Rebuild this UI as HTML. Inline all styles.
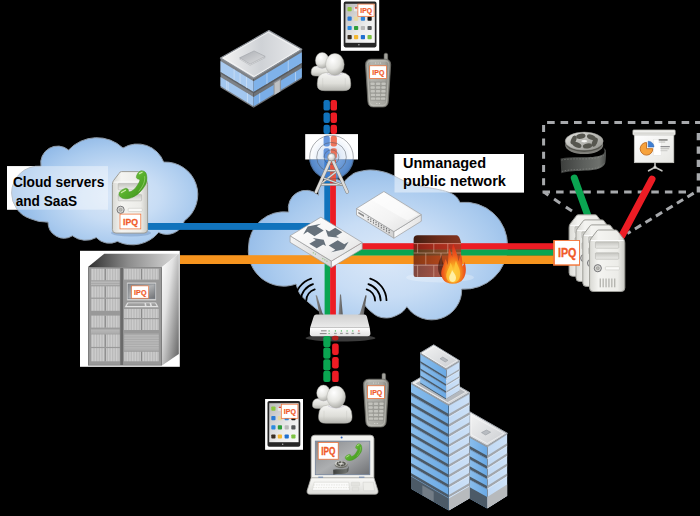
<!DOCTYPE html>
<html><head><meta charset="utf-8"><title>Network diagram</title>
<style>
html,body{margin:0;padding:0;background:#000;}
body{width:700px;height:516px;overflow:hidden;font-family:"Liberation Sans",sans-serif;}
svg{display:block;}
text{font-family:"Liberation Sans",sans-serif;}
</style></head><body>
<svg width="700" height="516" viewBox="0 0 700 516">
<rect width="700" height="516" fill="#000"/>
<defs>
<radialGradient id="cl1" gradientUnits="userSpaceOnUse" cx="118" cy="196" r="104" gradientTransform="translate(118 196) scale(1 0.62) translate(-118 -196)">
<stop offset="0" stop-color="#dbe8f8"/><stop offset="0.4" stop-color="#c8ddf5"/><stop offset="0.75" stop-color="#a9caee"/><stop offset="1" stop-color="#90b9e7"/>
</radialGradient>
<radialGradient id="cl2" gradientUnits="userSpaceOnUse" cx="385" cy="258" r="150" gradientTransform="translate(385 258) scale(1 0.65) translate(-385 -258)">
<stop offset="0" stop-color="#dbe8f8"/><stop offset="0.4" stop-color="#c8ddf5"/><stop offset="0.75" stop-color="#a9caee"/><stop offset="1" stop-color="#90b9e7"/>
</radialGradient>
</defs>
<defs>
<linearGradient id="rkTop" x1="0" y1="0" x2="1" y2="0"><stop offset="0" stop-color="#2e2e2e"/><stop offset="0.45" stop-color="#8d8d8d"/><stop offset="1" stop-color="#dcdcdc"/></linearGradient>
<linearGradient id="rkSide" x1="0" y1="0" x2="1" y2="1"><stop offset="0" stop-color="#ffffff"/><stop offset="0.35" stop-color="#e2e2e2"/><stop offset="1" stop-color="#5e5e5e"/></linearGradient>
<pattern id="rkStripe" width="1.6" height="4" patternUnits="userSpaceOnUse"><rect width="1.6" height="4" fill="#cfcfcf"/><rect width="0.5" height="4" fill="#a9a9a9"/></pattern>
<pattern id="rkSlot" width="4" height="1.7" patternUnits="userSpaceOnUse"><rect width="4" height="1.7" fill="#8a8a8a"/><rect y="0.3" width="4" height="0.9" fill="#d6d6d6"/></pattern>
</defs>
<defs>
<linearGradient id="obRoof" x1="0" y1="0.5" x2="1" y2="0.5"><stop offset="0" stop-color="#f4f4f4"/><stop offset="0.5" stop-color="#cfd2d6"/><stop offset="1" stop-color="#e9eaec"/></linearGradient>
<linearGradient id="obBox" x1="0" y1="0" x2="1" y2="1"><stop offset="0" stop-color="#a9acb1"/><stop offset="1" stop-color="#dfe0e2"/></linearGradient>
</defs>
<defs>
<linearGradient id="skL" x1="0" y1="0" x2="1" y2="0"><stop offset="0" stop-color="#8abdeb"/><stop offset="1" stop-color="#6aa9e5"/></linearGradient>
<linearGradient id="skR" x1="0" y1="0" x2="1" y2="0"><stop offset="0" stop-color="#c0d9f5"/><stop offset="1" stop-color="#cde1f7"/></linearGradient>
<linearGradient id="skRoof" x1="0" y1="0" x2="1" y2="1"><stop offset="0" stop-color="#f5f5f5"/><stop offset="1" stop-color="#c9ccd0"/></linearGradient>
</defs>
<defs>
<linearGradient id="svBody" x1="0" y1="0" x2="1" y2="0"><stop offset="0" stop-color="#d9d9d4"/><stop offset="0.25" stop-color="#f4f4f1"/><stop offset="0.8" stop-color="#ecece8"/><stop offset="1" stop-color="#c9c9c4"/></linearGradient>
<linearGradient id="svBay" x1="0" y1="0" x2="0" y2="1"><stop offset="0" stop-color="#c4c4bf"/><stop offset="1" stop-color="#ededea"/></linearGradient>
</defs>
<defs>
<linearGradient id="tbScr" x1="0" y1="0" x2="1" y2="1"><stop offset="0" stop-color="#b9b9b9"/><stop offset="0.6" stop-color="#ececec"/><stop offset="1" stop-color="#fafafa"/></linearGradient>
<radialGradient id="usHead" cx="0.38" cy="0.3" r="0.75"><stop offset="0" stop-color="#ffffff"/><stop offset="0.55" stop-color="#e6e6e2"/><stop offset="1" stop-color="#a9a9a4"/></radialGradient>
<linearGradient id="usBody" x1="0" y1="0" x2="0" y2="1"><stop offset="0" stop-color="#f6f6f4"/><stop offset="0.6" stop-color="#deded9"/><stop offset="1" stop-color="#b4b4af"/></linearGradient>
<linearGradient id="phBody" x1="0" y1="0" x2="1" y2="0"><stop offset="0" stop-color="#85857e"/><stop offset="0.22" stop-color="#b4b4ae"/><stop offset="0.75" stop-color="#a6a6a0"/><stop offset="1" stop-color="#7b7b74"/></linearGradient>
<linearGradient id="grPh" x1="0" y1="0" x2="1" y2="1"><stop offset="0" stop-color="#a5dd6a"/><stop offset="0.5" stop-color="#58b02c"/><stop offset="1" stop-color="#3c8e1c"/></linearGradient>
</defs>
<defs>
<radialGradient id="twC1" gradientUnits="userSpaceOnUse" cx="331.5" cy="157.2" r="22.4"><stop offset="0" stop-color="#8fb3e2"/><stop offset="0.5" stop-color="#6f9dd8"/><stop offset="1" stop-color="#4f83c6"/></radialGradient>
<radialGradient id="twC2" gradientUnits="userSpaceOnUse" cx="331.5" cy="157.2" r="22.4"><stop offset="0" stop-color="#a9c4ea"/><stop offset="0.45" stop-color="#e3ecf8"/><stop offset="1" stop-color="#ffffff"/></radialGradient>
<radialGradient id="twBall" cx="0.4" cy="0.35" r="0.7"><stop offset="0" stop-color="#ffffff"/><stop offset="0.6" stop-color="#dcdcdc"/><stop offset="1" stop-color="#9a9a9a"/></radialGradient>
<clipPath id="twLow"><rect x="300" y="159.5" width="70" height="40"/></clipPath>
<clipPath id="twUp"><rect x="305.2" y="134.1" width="52.8" height="25.4"/></clipPath>
</defs>
<defs>
<linearGradient id="swTop" x1="0" y1="0" x2="1" y2="1"><stop offset="0" stop-color="#ffffff"/><stop offset="0.6" stop-color="#f3f3f3"/><stop offset="1" stop-color="#dedede"/></linearGradient>
<linearGradient id="swL" x1="0" y1="0" x2="1" y2="0"><stop offset="0" stop-color="#f4f4f4"/><stop offset="1" stop-color="#d2d2d2"/></linearGradient>
<linearGradient id="swR" x1="0" y1="0" x2="1" y2="0"><stop offset="0" stop-color="#fbfbfb"/><stop offset="1" stop-color="#e4e4e4"/></linearGradient>
<linearGradient id="fwCap" x1="0" y1="0" x2="1" y2="0"><stop offset="0" stop-color="#3f1d12"/><stop offset="0.5" stop-color="#6b2a18"/><stop offset="1" stop-color="#84341f"/></linearGradient>
<linearGradient id="fwWall" x1="0" y1="0" x2="1" y2="0"><stop offset="0" stop-color="#6a2010"/><stop offset="0.5" stop-color="#96301a"/><stop offset="1" stop-color="#a83a20"/></linearGradient>
<radialGradient id="flame" cx="0.5" cy="0.72" r="0.7"><stop offset="0" stop-color="#ffd84a"/><stop offset="0.3" stop-color="#f9a11f"/><stop offset="0.62" stop-color="#ee5a1c"/><stop offset="1" stop-color="#d9281a"/></radialGradient>
</defs>
<defs>
<linearGradient id="rtTop" x1="0" y1="0" x2="0" y2="1"><stop offset="0" stop-color="#d0d0d0"/><stop offset="1" stop-color="#ebebeb"/></linearGradient>
<linearGradient id="rtFront" x1="0" y1="0" x2="0" y2="1"><stop offset="0" stop-color="#ffffff"/><stop offset="1" stop-color="#e2e2e2"/></linearGradient>
<linearGradient id="ant" x1="0" y1="0" x2="1" y2="0"><stop offset="0" stop-color="#8a8a8a"/><stop offset="1" stop-color="#555"/></linearGradient>
<linearGradient id="lpScr" x1="0" y1="0" x2="1" y2="1"><stop offset="0" stop-color="#86888b"/><stop offset="0.5" stop-color="#adafb1"/><stop offset="1" stop-color="#6f7174"/></linearGradient>
<linearGradient id="lpBody" x1="0" y1="0" x2="0" y2="1"><stop offset="0" stop-color="#fafaf8"/><stop offset="1" stop-color="#dcdcd8"/></linearGradient>
<linearGradient id="reel" x1="0" y1="0" x2="1" y2="1"><stop offset="0" stop-color="#e4e4e0"/><stop offset="1" stop-color="#8f8f8a"/></linearGradient>
<linearGradient id="film" x1="0" y1="0" x2="1" y2="0"><stop offset="0" stop-color="#3c3e3c"/><stop offset="0.5" stop-color="#5c5f5c"/><stop offset="0.85" stop-color="#6e716d"/><stop offset="1" stop-color="#4a4c4a"/></linearGradient>
<linearGradient id="prScr" x1="0" y1="0" x2="1" y2="1"><stop offset="0" stop-color="#ffffff"/><stop offset="1" stop-color="#e6e6e2"/></linearGradient>
</defs>
<rect x="7" y="166.1" width="101" height="43.6" fill="#fff"/>
<rect x="394.5" y="154" width="129.5" height="38.5" fill="#fff"/>
<path d="M41.0 166.2 A17.0 17.0 0 0 1 68.6 150.0 A38.4 38.4 0 0 1 123.0 148.0 A28.0 28.0 0 0 1 163.7 162.1 A32.5 32.5 0 0 1 184.3 220.9 A18.0 18.0 0 0 1 158.6 232.4 A34.0 34.0 0 0 1 117.4 241.4 A18.0 18.0 0 0 1 96.3 237.6 A22.0 22.0 0 0 1 72.4 235.8 A16.0 16.0 0 0 1 48.0 222.1 A40.0 40.0 0 0 1 30.0 218.6 A27.0 27.0 0 0 1 11.6 193.0 A27.0 27.0 0 0 1 41.0 166.2Z" fill="url(#cl1)" stroke="#8e9aa8" stroke-width="1"/>
<path d="M288.7 212.1 A17.9 17.9 0 0 1 318.5 195.2 A14.8 14.8 0 0 1 343.5 183.0 C344.1 182.3 345.6 180.0 346.8 178.8 C348.0 177.6 349.0 176.9 350.5 175.8 C352.0 174.8 352.8 173.5 356.0 172.5 C359.2 171.5 365.3 170.1 370.0 170.0 C374.7 169.9 379.9 171.0 384.0 172.0 C388.1 173.0 390.7 174.3 394.4 176.0 C398.1 177.7 401.7 180.3 406.0 182.0 C410.3 183.7 415.0 184.8 420.0 186.0 C425.0 187.2 431.3 188.0 436.0 189.0 C440.7 190.0 444.7 190.8 448.0 192.0 C451.3 193.2 454.0 194.8 456.0 196.5 C458.0 198.2 459.3 201.4 460.0 202.4 A43.0 43.0 0 0 1 507.5 246.0 A43.0 43.0 0 0 1 461.7 289.1 A30.0 30.0 0 0 1 406.9 306.7 C405.9 307.8 403.9 311.2 401.0 313.0 C398.1 314.8 393.5 317.1 389.7 317.7 C385.9 318.3 381.7 317.9 378.3 316.6 C374.9 315.3 371.4 311.9 369.1 310.0 C366.8 308.1 365.4 305.8 364.6 305.0 C363.8 306.5 363.3 311.5 360.0 314.0 C356.7 316.5 350.0 319.3 345.0 320.0 C340.0 320.7 334.4 319.5 330.0 318.0 C325.6 316.5 321.7 312.8 318.9 310.9 C316.1 308.9 316.2 309.0 313.1 306.3 C310.1 303.6 303.5 298.6 300.6 294.9 C297.8 291.2 296.8 285.8 296.0 284.0 A35.5 35.5 0 0 1 248.5 247.0 A35.5 35.5 0 0 1 288.7 212.1Z" fill="url(#cl2)" stroke="#8e9aa8" stroke-width="1"/>
<rect x="7" y="166.1" width="101" height="43.6" fill="#fff" fill-opacity="0.4"/>
<rect x="394.5" y="154" width="129.5" height="38.5" fill="#fff" fill-opacity="0.45"/>
<text x="12.9" y="187" font-size="14.5" font-weight="bold" fill="#000" textLength="91.4" lengthAdjust="spacingAndGlyphs">Cloud servers</text>
<text x="15.7" y="205.6" font-size="14.5" font-weight="bold" fill="#000" textLength="61.4" lengthAdjust="spacingAndGlyphs">and SaaS</text>
<text x="403" y="168.1" font-size="14.5" font-weight="bold" fill="#000" textLength="83" lengthAdjust="spacingAndGlyphs">Unmanaged</text>
<text x="403" y="186.4" font-size="14.5" font-weight="bold" fill="#000" textLength="103" lengthAdjust="spacingAndGlyphs">public network</text>
<rect x="148" y="223" width="162" height="6.9" fill="#1173bc"/>
<rect x="180" y="255.2" width="374" height="8.8" fill="#f7941e"/>
<rect x="345" y="249.3" width="209" height="6.2" fill="#0aa551"/>
<rect x="350" y="243.2" width="204" height="6.2" fill="#ec1c24"/>
<rect x="324.3" y="178" width="5.8" height="47" fill="#1173bc"/>
<rect x="330.1" y="178" width="5.8" height="52" fill="#ec1c24"/>
<rect x="324.6" y="255" width="5.5" height="62" fill="#0aa551"/>
<rect x="330.1" y="255" width="5.8" height="62" fill="#ec1c24"/>
<g id="rack">
<rect x="80" y="250.8" width="99.8" height="116" fill="#fff"/>
<polygon points="88,267.1 104.3,253.7 178.8,253.7 162,267.1" fill="url(#rkTop)"/>
<polygon points="162,267.1 178.8,253.7 178.8,354 162,365.6" fill="url(#rkSide)"/>
<rect x="88" y="267.1" width="74" height="98.5" fill="#7d7d7d"/>
<rect x="89" y="268" width="72" height="96.8" fill="#999"/>
<rect x="120.3" y="268" width="2.8" height="97" fill="#6a6a6a"/>
<rect x="91.0" y="268.8" width="28.6" height="11.5" fill="url(#rkStripe)"/>
<rect x="104.7" y="268.8" width="1.2" height="11.5" fill="#8a8a8a"/>
<rect x="91.0" y="286.3" width="28.6" height="11.3" fill="url(#rkStripe)"/>
<rect x="104.7" y="286.3" width="1.2" height="11.3" fill="#8a8a8a"/>
<rect x="91.0" y="298.8" width="28.6" height="12.0" fill="url(#rkStripe)"/>
<rect x="104.7" y="298.8" width="1.2" height="12.0" fill="#8a8a8a"/>
<rect x="91.0" y="315.6" width="28.6" height="12.0" fill="url(#rkStripe)"/>
<rect x="104.7" y="315.6" width="1.2" height="12.0" fill="#8a8a8a"/>
<rect x="91.0" y="334.4" width="28.6" height="12.5" fill="url(#rkStripe)"/>
<rect x="104.7" y="334.4" width="1.2" height="12.5" fill="#8a8a8a"/>
<rect x="91.0" y="348.1" width="28.6" height="13.2" fill="url(#rkStripe)"/>
<rect x="104.7" y="348.1" width="1.2" height="13.2" fill="#8a8a8a"/>
<rect x="91.0" y="280.8" width="28.6" height="4.6" fill="url(#rkSlot)"/>
<rect x="91.0" y="328.9" width="28.6" height="4.6" fill="url(#rkSlot)"/>
<rect x="124.2" y="268.8" width="34.6" height="10.8" fill="url(#rkStripe)"/>
<rect x="140.9" y="268.8" width="1.2" height="10.8" fill="#8a8a8a"/>
<rect x="124.2" y="308.9" width="34.6" height="9.1" fill="url(#rkStripe)"/>
<rect x="140.9" y="308.9" width="1.2" height="9.1" fill="#8a8a8a"/>
<rect x="124.2" y="319.2" width="34.6" height="10.8" fill="url(#rkStripe)"/>
<rect x="140.9" y="319.2" width="1.2" height="10.8" fill="#8a8a8a"/>
<rect x="124.2" y="351.7" width="34.6" height="9.6" fill="url(#rkStripe)"/>
<rect x="140.9" y="351.7" width="1.2" height="9.6" fill="#8a8a8a"/>
<rect x="124.2" y="333.7" width="34.6" height="16.8" fill="url(#rkSlot)"/>
<rect x="126.6" y="282.2" width="29.8" height="18.6" rx="0.8" fill="#d2d2d2" stroke="#8c8c8c" stroke-width="0.5"/>
<rect x="128" y="284" width="27" height="14.8" fill="url(#lpScr)" stroke="#6f7780" stroke-width="0.5"/>
<polygon points="127.2,302.2 156,302.2 159,307.6 124.2,307.6" fill="#e2e2e2" stroke="#8c8c8c" stroke-width="0.4"/>
<polygon points="128.3,303.2 144.5,303.2 144.9,306 126.7,306" fill="#8f8f8f" opacity="0.8"/><polygon points="146,303.2 149.6,303.2 150.3,306 146.5,306" fill="#8f8f8f" opacity="0.8"/><polygon points="151.2,303.2 155.2,303.2 156.6,306 152,306" fill="#8f8f8f" opacity="0.8"/>
<rect x="131.6" y="285.9" width="17.0" height="12.3" fill="#fff" stroke="#f26a2b" stroke-width="0.6"/><text x="140.3" y="294.8" font-size="7.7" font-weight="bold" fill="#f15a29" stroke="#f15a29" stroke-width="0.22" text-anchor="middle" textLength="12.4" lengthAdjust="spacingAndGlyphs">IPQ</text>
</g>
<g id="office">
<polygon points="220.50,58.10 253.60,78.20 253.60,107.70 220.50,87.60" fill="#7e8287" />
<polygon points="220.50,61.05 253.60,81.15 253.60,92.06 220.50,71.97" fill="#a9cbf1" />
<polygon points="220.50,76.98 253.60,97.08 253.60,106.22 220.50,86.12" fill="#a3c7ef" />
<polygon points="220.50,71.97 253.60,92.06 253.60,93.54 220.50,73.44" fill="#5f6368" />
<polygon points="233.74,69.09 234.40,69.49 234.40,80.41 233.74,80.00" fill="#d4e4f7" />
<polygon points="239.70,72.71 240.36,73.11 240.36,84.02 239.70,83.62" fill="#d4e4f7" />
<polygon points="246.32,76.73 246.98,77.13 246.98,88.05 246.32,87.64" fill="#d4e4f7" />
<polygon points="226.46,80.60 227.12,81.00 227.12,90.15 226.46,89.74" fill="#d4e4f7" />
<polygon points="227.78,81.40 228.44,81.80 228.44,90.95 227.78,90.55" fill="#d4e4f7" />
<polygon points="246.98,93.06 247.64,93.46 247.64,102.61 246.98,102.21" fill="#d4e4f7" />
<polygon points="253.60,78.20 301.80,49.20 301.80,78.70 253.60,107.70" fill="#6f7378" />
<polygon points="253.60,81.15 301.80,52.15 301.80,63.06 253.60,92.06" fill="#7fb2ea" />
<polygon points="253.60,97.08 301.80,68.08 301.80,77.22 253.60,106.22" fill="#7aaee8" />
<polygon points="253.60,92.06 301.80,63.06 301.80,64.54 253.60,93.54" fill="#55595e" />
<polygon points="266.61,73.32 267.34,72.89 267.34,83.80 266.61,84.23" fill="#c0d8f4" />
<polygon points="287.82,60.56 288.55,60.13 288.55,71.04 287.82,71.47" fill="#c0d8f4" />
<polygon points="259.38,93.60 260.11,93.16 260.11,102.31 259.38,102.75" fill="#c0d8f4" />
<polygon points="295.05,72.14 295.77,71.70 295.77,80.85 295.05,81.28" fill="#c0d8f4" />
<polygon points="273.60,82.39 280.83,78.04 280.83,91.02 273.60,95.37" fill="#8e9196" />
<polygon points="274.57,83.29 279.87,80.09 279.87,91.60 274.57,94.79" fill="#bfc2c5" />
<polygon points="268.9,30.5 301.8,49.2 253.6,78.2 220.5,58.1" fill="url(#obRoof)" stroke="#8b9097" stroke-width="1.2" stroke-linejoin="round"/>
<polygon points="268.36,32.17 298.96,49.56 254.14,76.53 223.35,57.84" fill="none" stroke="#f6f6f6" stroke-width="1" stroke-opacity="0.85"/>
<polygon points="239.6,59 254.1,52.1 265.2,57.6 250.1,65.3" fill="#e9e9ea" stroke="#a7aaae" stroke-width="0.5"/>
<polygon points="239.6,57.8 254.1,50.9 265.2,56.4 250.1,64.1" fill="url(#obBox)" stroke="#a0a3a7" stroke-width="0.6"/>
</g>
<g id="sky">
<clipPath id="tl1"><polygon points="469.70,436.40 487.20,446.10 487.20,508.70 469.70,499.00"/></clipPath><clipPath id="tr1"><polygon points="487.20,446.10 507.40,433.30 507.40,495.90 487.20,508.70"/></clipPath><g clip-path="url(#tl1)"><polygon points="469.70,436.40 487.20,446.10 487.20,508.70 469.70,499.00" fill="url(#skL)"/><polygon points="469.70,446.10 487.20,455.80 487.20,458.80 469.70,449.10" fill="#4b5966" /><polygon points="469.70,449.10 487.20,458.80 487.20,459.40 469.70,449.70" fill="#6f8cad" /><polygon points="469.70,456.20 487.20,465.90 487.20,468.90 469.70,459.20" fill="#4b5966" /><polygon points="469.70,459.20 487.20,468.90 487.20,469.50 469.70,459.80" fill="#6f8cad" /><polygon points="469.70,466.30 487.20,476.00 487.20,479.00 469.70,469.30" fill="#4b5966" /><polygon points="469.70,469.30 487.20,479.00 487.20,479.60 469.70,469.90" fill="#6f8cad" /><polygon points="469.70,476.40 487.20,486.10 487.20,489.10 469.70,479.40" fill="#4b5966" /><polygon points="469.70,479.40 487.20,489.10 487.20,489.70 469.70,480.00" fill="#6f8cad" /><polygon points="469.70,436.40 487.20,446.10 487.20,447.40 469.70,437.70" fill="#8f969d" /><polygon points="469.70,487.30 487.20,497.00 487.20,508.70 469.70,499.00" fill="#4c5a67" /></g><g clip-path="url(#tr1)"><polygon points="487.20,446.10 507.40,433.30 507.40,495.90 487.20,508.70" fill="url(#skR)"/><polygon points="487.20,455.80 507.40,443.00 507.40,445.70 487.20,458.50" fill="#a2a7ad" /><polygon points="487.20,458.50 507.40,445.70 507.40,446.40 487.20,459.20" fill="#dfeaf8" /><polygon points="487.20,465.90 507.40,453.10 507.40,455.80 487.20,468.60" fill="#a2a7ad" /><polygon points="487.20,468.60 507.40,455.80 507.40,456.50 487.20,469.30" fill="#dfeaf8" /><polygon points="487.20,476.00 507.40,463.20 507.40,465.90 487.20,478.70" fill="#a2a7ad" /><polygon points="487.20,478.70 507.40,465.90 507.40,466.60 487.20,479.40" fill="#dfeaf8" /><polygon points="487.20,486.10 507.40,473.30 507.40,476.00 487.20,488.80" fill="#a2a7ad" /><polygon points="487.20,488.80 507.40,476.00 507.40,476.70 487.20,489.50" fill="#dfeaf8" /><polygon points="487.20,446.10 507.40,433.30 507.40,434.60 487.20,447.40" fill="#aab0b6" /><polygon points="487.20,497.00 507.40,484.20 507.40,495.90 487.20,508.70" fill="#b7babd" /></g>
<polygon points="469.7,411.7 507.4,433.3 487.2,446.1 469.7,436.4" fill="url(#skRoof)" stroke="#9ba1a8" stroke-width="1" stroke-linejoin="round"/>
<polygon points="471,415.5 503.8,433.6 487.2,443.6 471,434.6" fill="none" stroke="#fff" stroke-opacity="0.7" stroke-width="0.7"/>
<polygon points="481.5,432.6 486.5,430 490.6,432.2 485.6,435" fill="#b8bcc1" stroke="#8d9299" stroke-width="0.5"/>
<clipPath id="tl2"><polygon points="411.00,383.00 448.80,404.80 448.80,510.80 411.00,489.00"/></clipPath><clipPath id="tr2"><polygon points="448.80,404.80 469.80,392.60 469.80,498.60 448.80,510.80"/></clipPath><g clip-path="url(#tl2)"><polygon points="411.00,383.00 448.80,404.80 448.80,510.80 411.00,489.00" fill="url(#skL)"/><polygon points="411.00,392.30 448.80,414.10 448.80,417.10 411.00,395.30" fill="#4b5966" /><polygon points="411.00,395.30 448.80,417.10 448.80,417.70 411.00,395.90" fill="#6f8cad" /><polygon points="411.00,402.40 448.80,424.20 448.80,427.20 411.00,405.40" fill="#4b5966" /><polygon points="411.00,405.40 448.80,427.20 448.80,427.80 411.00,406.00" fill="#6f8cad" /><polygon points="411.00,412.50 448.80,434.30 448.80,437.30 411.00,415.50" fill="#4b5966" /><polygon points="411.00,415.50 448.80,437.30 448.80,437.90 411.00,416.10" fill="#6f8cad" /><polygon points="411.00,422.60 448.80,444.40 448.80,447.40 411.00,425.60" fill="#4b5966" /><polygon points="411.00,425.60 448.80,447.40 448.80,448.00 411.00,426.20" fill="#6f8cad" /><polygon points="411.00,432.70 448.80,454.50 448.80,457.50 411.00,435.70" fill="#4b5966" /><polygon points="411.00,435.70 448.80,457.50 448.80,458.10 411.00,436.30" fill="#6f8cad" /><polygon points="411.00,442.80 448.80,464.60 448.80,467.60 411.00,445.80" fill="#4b5966" /><polygon points="411.00,445.80 448.80,467.60 448.80,468.20 411.00,446.40" fill="#6f8cad" /><polygon points="411.00,452.90 448.80,474.70 448.80,477.70 411.00,455.90" fill="#4b5966" /><polygon points="411.00,455.90 448.80,477.70 448.80,478.30 411.00,456.50" fill="#6f8cad" /><polygon points="411.00,463.00 448.80,484.80 448.80,487.80 411.00,466.00" fill="#4b5966" /><polygon points="411.00,466.00 448.80,487.80 448.80,488.40 411.00,466.60" fill="#6f8cad" /><polygon points="411.00,473.10 448.80,494.90 448.80,497.90 411.00,476.10" fill="#4b5966" /><polygon points="411.00,476.10 448.80,497.90 448.80,498.50 411.00,476.70" fill="#6f8cad" /><polygon points="411.00,383.00 448.80,404.80 448.80,406.10 411.00,384.30" fill="#8f969d" /><polygon points="411.00,476.60 448.80,498.40 448.80,510.80 411.00,489.00" fill="#4c5a67" /><polygon points="422.34,485.14 433.68,491.68 433.68,502.08 422.34,495.54" fill="#727c86" /></g><g clip-path="url(#tr2)"><polygon points="448.80,404.80 469.80,392.60 469.80,498.60 448.80,510.80" fill="url(#skR)"/><polygon points="448.80,414.10 469.80,401.90 469.80,404.60 448.80,416.80" fill="#a2a7ad" /><polygon points="448.80,416.80 469.80,404.60 469.80,405.30 448.80,417.50" fill="#dfeaf8" /><polygon points="448.80,424.20 469.80,412.00 469.80,414.70 448.80,426.90" fill="#a2a7ad" /><polygon points="448.80,426.90 469.80,414.70 469.80,415.40 448.80,427.60" fill="#dfeaf8" /><polygon points="448.80,434.30 469.80,422.10 469.80,424.80 448.80,437.00" fill="#a2a7ad" /><polygon points="448.80,437.00 469.80,424.80 469.80,425.50 448.80,437.70" fill="#dfeaf8" /><polygon points="448.80,444.40 469.80,432.20 469.80,434.90 448.80,447.10" fill="#a2a7ad" /><polygon points="448.80,447.10 469.80,434.90 469.80,435.60 448.80,447.80" fill="#dfeaf8" /><polygon points="448.80,454.50 469.80,442.30 469.80,445.00 448.80,457.20" fill="#a2a7ad" /><polygon points="448.80,457.20 469.80,445.00 469.80,445.70 448.80,457.90" fill="#dfeaf8" /><polygon points="448.80,464.60 469.80,452.40 469.80,455.10 448.80,467.30" fill="#a2a7ad" /><polygon points="448.80,467.30 469.80,455.10 469.80,455.80 448.80,468.00" fill="#dfeaf8" /><polygon points="448.80,474.70 469.80,462.50 469.80,465.20 448.80,477.40" fill="#a2a7ad" /><polygon points="448.80,477.40 469.80,465.20 469.80,465.90 448.80,478.10" fill="#dfeaf8" /><polygon points="448.80,484.80 469.80,472.60 469.80,475.30 448.80,487.50" fill="#a2a7ad" /><polygon points="448.80,487.50 469.80,475.30 469.80,476.00 448.80,488.20" fill="#dfeaf8" /><polygon points="448.80,494.90 469.80,482.70 469.80,485.40 448.80,497.60" fill="#a2a7ad" /><polygon points="448.80,497.60 469.80,485.40 469.80,486.10 448.80,498.30" fill="#dfeaf8" /><polygon points="448.80,404.80 469.80,392.60 469.80,393.90 448.80,406.10" fill="#aab0b6" /><polygon points="448.80,498.40 469.80,486.20 469.80,498.60 448.80,510.80" fill="#b7babd" /></g><polygon points="432.00,370.80 469.80,392.60 448.80,404.80 411.00,383.00" fill="url(#skRoof)" stroke="#9ba1a8" stroke-width="1" stroke-linejoin="round"/><polygon points="433.09,373.01 465.98,391.98 447.71,402.59 414.82,383.62" fill="#b4b8bd" stroke="#ffffff" stroke-opacity="0.7" stroke-width="0.7"/>
<clipPath id="tl3"><polygon points="420.10,353.00 446.20,369.00 446.20,399.50 420.10,383.50"/></clipPath><clipPath id="tr3"><polygon points="446.20,369.00 459.80,360.80 459.80,391.30 446.20,399.50"/></clipPath><g clip-path="url(#tl3)"><polygon points="420.10,353.00 446.20,369.00 446.20,399.50 420.10,383.50" fill="url(#skL)"/><polygon points="420.10,361.00 446.20,377.00 446.20,378.80 420.10,362.80" fill="#4b5966" /><polygon points="420.10,362.80 446.20,378.80 446.20,379.40 420.10,363.40" fill="#6f8cad" /><polygon points="420.10,368.15 446.20,384.15 446.20,385.95 420.10,369.95" fill="#4b5966" /><polygon points="420.10,369.95 446.20,385.95 446.20,386.55 420.10,370.55" fill="#6f8cad" /><polygon points="420.10,375.30 446.20,391.30 446.20,393.10 420.10,377.10" fill="#4b5966" /><polygon points="420.10,377.10 446.20,393.10 446.20,393.70 420.10,377.70" fill="#6f8cad" /><polygon points="420.10,382.45 446.20,398.45 446.20,400.25 420.10,384.25" fill="#4b5966" /><polygon points="420.10,384.25 446.20,400.25 446.20,400.85 420.10,384.85" fill="#6f8cad" /><polygon points="420.10,353.00 446.20,369.00 446.20,370.30 420.10,354.30" fill="#8f969d" /><polygon points="420.10,383.50 446.20,399.50 446.20,399.50 420.10,383.50" fill="#4c5a67" /></g><g clip-path="url(#tr3)"><polygon points="446.20,369.00 459.80,360.80 459.80,391.30 446.20,399.50" fill="url(#skR)"/><polygon points="446.20,377.00 459.80,368.80 459.80,370.42 446.20,378.62" fill="#a2a7ad" /><polygon points="446.20,378.62 459.80,370.42 459.80,371.12 446.20,379.32" fill="#dfeaf8" /><polygon points="446.20,384.15 459.80,375.95 459.80,377.57 446.20,385.77" fill="#a2a7ad" /><polygon points="446.20,385.77 459.80,377.57 459.80,378.27 446.20,386.47" fill="#dfeaf8" /><polygon points="446.20,391.30 459.80,383.10 459.80,384.72 446.20,392.92" fill="#a2a7ad" /><polygon points="446.20,392.92 459.80,384.72 459.80,385.42 446.20,393.62" fill="#dfeaf8" /><polygon points="446.20,398.45 459.80,390.25 459.80,391.87 446.20,400.07" fill="#a2a7ad" /><polygon points="446.20,400.07 459.80,391.87 459.80,392.57 446.20,400.77" fill="#dfeaf8" /><polygon points="446.20,369.00 459.80,360.80 459.80,362.10 446.20,370.30" fill="#aab0b6" /><polygon points="446.20,399.50 459.80,391.30 459.80,391.30 446.20,399.50" fill="#b7babd" /></g><polygon points="433.70,344.80 459.80,360.80 446.20,369.00 420.10,353.00" fill="url(#skRoof)" stroke="#9ba1a8" stroke-width="1" stroke-linejoin="round"/><polygon points="434.51,346.37 457.22,360.29 445.39,367.43 422.68,353.51" fill="none" stroke="#ffffff" stroke-opacity="0.7" stroke-width="0.7"/><polygon points="445.24,361.96 447.96,360.32 442.74,357.12 440.02,358.76" fill="#b8bcc1" stroke="#8d9299" stroke-width="0.5"/>
</g>
<g id="dashbox" fill="none" stroke="#a7a9ac" stroke-width="3">
<path d="M547.1 122.4 L704 122.4" stroke-dasharray="7.6 5.85"/>
<path d="M543.6 125.1 L543.6 190" stroke-dasharray="7 6.3"/>
<path d="M542.5 192 L687 192" stroke-dasharray="7.5 6.1"/>
<path d="M698.4 133 L698.4 192.5" stroke-dasharray="7.3 6.1" stroke-width="3.4"/>
<path d="M543.8 192.1 L573 211.8" stroke-dasharray="7.4 6.8" stroke-dashoffset="-12.4"/>
<path d="M700 189.3 L627.4 233.5" stroke-dasharray="7.3 5" stroke-dashoffset="-7.4"/>
</g>
<line x1="574.3" y1="178" x2="588" y2="216" stroke="#0aa551" stroke-width="7" stroke-linecap="round"/>
<line x1="652" y1="179.2" x2="621.8" y2="236" stroke="#ec1c24" stroke-width="7" stroke-linecap="round"/>
<g id="servers">
<g transform="translate(568.6 214.3)"><path d="M9.5 0.5 H26.7 Q28.2 0.5 29.2 2.5 L34.6 9.5 Q35.7 11 35.7 13.5 V58.5 Q35.7 62.0 32.2 62.0 H4 Q0.5 62.0 0.5 58.5 V13.5 Q0.5 11 1.6 9.5 L7 2.5 Q8 0.5 9.5 0.5Z" fill="url(#svBody)" stroke="#9d9d98" stroke-width="1"/><path d="M1.8 11 H34.4" stroke="#fff" stroke-width="1" opacity="0.9"/><rect x="6.3" y="12.3" width="23.4" height="6.4" rx="0.8" fill="url(#svBay)" stroke="#b3b3ae" stroke-width="0.6"/><rect x="6.3" y="23.3" width="23.4" height="6.4" rx="0.8" fill="url(#svBay)" stroke="#b3b3ae" stroke-width="0.6"/><circle cx="8.7" cy="38.7" r="3.6" fill="#d6d6d2" stroke="#77777a" stroke-width="1"/><circle cx="8.7" cy="38.7" r="1.5" fill="#b9b9b5" stroke="#8a8a88" stroke-width="0.5"/><rect x="16.3" y="37.2" width="14" height="3.2" rx="0.6" fill="#fafaf8" stroke="#c2c2bd" stroke-width="0.5"/><rect x="10.6" y="49" width="1.1" height="8.8" fill="#a8a8a3"/><rect x="13.5" y="49" width="1.1" height="8.8" fill="#a8a8a3"/><rect x="16.4" y="49" width="1.1" height="8.8" fill="#a8a8a3"/><rect x="19.3" y="49" width="1.1" height="8.8" fill="#a8a8a3"/><rect x="22.2" y="49" width="1.1" height="8.8" fill="#a8a8a3"/><rect x="25.1" y="49" width="1.1" height="8.8" fill="#a8a8a3"/></g>
<g transform="translate(575.5 219.4)"><path d="M9.5 0.5 H26.7 Q28.2 0.5 29.2 2.5 L34.6 9.5 Q35.7 11 35.7 13.5 V58.5 Q35.7 62.0 32.2 62.0 H4 Q0.5 62.0 0.5 58.5 V13.5 Q0.5 11 1.6 9.5 L7 2.5 Q8 0.5 9.5 0.5Z" fill="url(#svBody)" stroke="#9d9d98" stroke-width="1"/><path d="M1.8 11 H34.4" stroke="#fff" stroke-width="1" opacity="0.9"/><rect x="6.3" y="12.3" width="23.4" height="6.4" rx="0.8" fill="url(#svBay)" stroke="#b3b3ae" stroke-width="0.6"/><rect x="6.3" y="23.3" width="23.4" height="6.4" rx="0.8" fill="url(#svBay)" stroke="#b3b3ae" stroke-width="0.6"/><circle cx="8.7" cy="38.7" r="3.6" fill="#d6d6d2" stroke="#77777a" stroke-width="1"/><circle cx="8.7" cy="38.7" r="1.5" fill="#b9b9b5" stroke="#8a8a88" stroke-width="0.5"/><rect x="16.3" y="37.2" width="14" height="3.2" rx="0.6" fill="#fafaf8" stroke="#c2c2bd" stroke-width="0.5"/><rect x="10.6" y="49" width="1.1" height="8.8" fill="#a8a8a3"/><rect x="13.5" y="49" width="1.1" height="8.8" fill="#a8a8a3"/><rect x="16.4" y="49" width="1.1" height="8.8" fill="#a8a8a3"/><rect x="19.3" y="49" width="1.1" height="8.8" fill="#a8a8a3"/><rect x="22.2" y="49" width="1.1" height="8.8" fill="#a8a8a3"/><rect x="25.1" y="49" width="1.1" height="8.8" fill="#a8a8a3"/></g>
<g transform="translate(582.3 224.4)"><path d="M9.5 0.5 H26.7 Q28.2 0.5 29.2 2.5 L34.6 9.5 Q35.7 11 35.7 13.5 V58.5 Q35.7 62.0 32.2 62.0 H4 Q0.5 62.0 0.5 58.5 V13.5 Q0.5 11 1.6 9.5 L7 2.5 Q8 0.5 9.5 0.5Z" fill="url(#svBody)" stroke="#9d9d98" stroke-width="1"/><path d="M1.8 11 H34.4" stroke="#fff" stroke-width="1" opacity="0.9"/><rect x="6.3" y="12.3" width="23.4" height="6.4" rx="0.8" fill="url(#svBay)" stroke="#b3b3ae" stroke-width="0.6"/><rect x="6.3" y="23.3" width="23.4" height="6.4" rx="0.8" fill="url(#svBay)" stroke="#b3b3ae" stroke-width="0.6"/><circle cx="8.7" cy="38.7" r="3.6" fill="#d6d6d2" stroke="#77777a" stroke-width="1"/><circle cx="8.7" cy="38.7" r="1.5" fill="#b9b9b5" stroke="#8a8a88" stroke-width="0.5"/><rect x="16.3" y="37.2" width="14" height="3.2" rx="0.6" fill="#fafaf8" stroke="#c2c2bd" stroke-width="0.5"/><rect x="10.6" y="49" width="1.1" height="8.8" fill="#a8a8a3"/><rect x="13.5" y="49" width="1.1" height="8.8" fill="#a8a8a3"/><rect x="16.4" y="49" width="1.1" height="8.8" fill="#a8a8a3"/><rect x="19.3" y="49" width="1.1" height="8.8" fill="#a8a8a3"/><rect x="22.2" y="49" width="1.1" height="8.8" fill="#a8a8a3"/><rect x="25.1" y="49" width="1.1" height="8.8" fill="#a8a8a3"/></g>
<g transform="translate(589.1 229.5)"><path d="M9.5 0.5 H26.7 Q28.2 0.5 29.2 2.5 L34.6 9.5 Q35.7 11 35.7 13.5 V58.5 Q35.7 62.0 32.2 62.0 H4 Q0.5 62.0 0.5 58.5 V13.5 Q0.5 11 1.6 9.5 L7 2.5 Q8 0.5 9.5 0.5Z" fill="url(#svBody)" stroke="#9d9d98" stroke-width="1"/><path d="M1.8 11 H34.4" stroke="#fff" stroke-width="1" opacity="0.9"/><rect x="6.3" y="12.3" width="23.4" height="6.4" rx="0.8" fill="url(#svBay)" stroke="#b3b3ae" stroke-width="0.6"/><rect x="6.3" y="23.3" width="23.4" height="6.4" rx="0.8" fill="url(#svBay)" stroke="#b3b3ae" stroke-width="0.6"/><circle cx="8.7" cy="38.7" r="3.6" fill="#d6d6d2" stroke="#77777a" stroke-width="1"/><circle cx="8.7" cy="38.7" r="1.5" fill="#b9b9b5" stroke="#8a8a88" stroke-width="0.5"/><rect x="16.3" y="37.2" width="14" height="3.2" rx="0.6" fill="#fafaf8" stroke="#c2c2bd" stroke-width="0.5"/><rect x="10.6" y="49" width="1.1" height="8.8" fill="#a8a8a3"/><rect x="13.5" y="49" width="1.1" height="8.8" fill="#a8a8a3"/><rect x="16.4" y="49" width="1.1" height="8.8" fill="#a8a8a3"/><rect x="19.3" y="49" width="1.1" height="8.8" fill="#a8a8a3"/><rect x="22.2" y="49" width="1.1" height="8.8" fill="#a8a8a3"/><rect x="25.1" y="49" width="1.1" height="8.8" fill="#a8a8a3"/></g>
</g>
<rect x="553.1" y="240.1" width="26.9" height="25.6" fill="#f4793b"/>
<rect x="554.5" y="240.6" width="24.9" height="24.2" fill="#fff" stroke="#f26a2b" stroke-width="0.7"/><text x="567.2" y="257.4" font-size="13.0" font-weight="bold" fill="#f15a29" stroke="#f15a29" stroke-width="0.36" text-anchor="middle" textLength="18.5" lengthAdjust="spacingAndGlyphs">IPQ</text>
<g id="topdev">
<g><rect x="340.9" y="-2.0" width="38.3" height="52.8" fill="#fff"/><g transform="translate(343.7 1.6)"><rect x="0" y="0" width="32.8" height="45.8" rx="1.8" fill="#262626"/><rect x="1.7" y="2.2" width="29.4" height="39" fill="url(#tbScr)"/><rect x="3.8" y="5.5" width="4.2" height="4.2" rx="0.8" fill="#8cc63f"/><rect x="10.3" y="5.5" width="4.2" height="4.2" rx="0.8" fill="#e9e9e9"/><rect x="3.8" y="15.0" width="4.2" height="4.2" rx="0.8" fill="#2b7bd6"/><rect x="10.3" y="15.0" width="4.2" height="4.2" rx="0.8" fill="#e8d9a0"/><rect x="17.1" y="15.0" width="4.2" height="4.2" rx="0.8" fill="#2f86dc"/><rect x="23.8" y="15.0" width="4.2" height="4.2" rx="0.8" fill="#151515"/><rect x="3.8" y="24.3" width="4.2" height="4.2" rx="0.8" fill="#2b8ae0"/><rect x="10.3" y="24.3" width="4.2" height="4.2" rx="0.8" fill="#2e9e3a"/><rect x="17.1" y="24.3" width="4.2" height="4.2" rx="0.8" fill="#b9b9b9"/><rect x="23.8" y="24.3" width="4.2" height="4.2" rx="0.8" fill="#55585a"/><rect x="3.8" y="33.4" width="4.2" height="4.2" rx="0.8" fill="#3a2e22"/><rect x="10.3" y="33.4" width="4.2" height="4.2" rx="0.8" fill="#f4b731"/><rect x="17.1" y="33.4" width="4.2" height="4.2" rx="0.8" fill="#1f6fd0"/><rect x="23.8" y="33.4" width="4.2" height="4.2" rx="0.8" fill="#7dc242"/><rect x="11.2" y="5.7" width="2.4" height="1.2" fill="#d8372c"/><circle cx="15.2" cy="43.2" r="0.7" fill="#bbb"/><rect x="14.2" y="2.5" width="16.2" height="12.2" fill="#fff" stroke="#f26a2b" stroke-width="0.7"/><text x="22.5" y="11.4" font-size="7.8" font-weight="bold" fill="#f15a29" stroke="#f15a29" stroke-width="0.22" text-anchor="middle" textLength="11.8" lengthAdjust="spacingAndGlyphs">IPQ</text></g></g>
<g transform="translate(310.3 52.2)"><path d="M0.9 19.8 Q0.9 14.2 6.5 13.8 L19 13.8 L19 23.8 L5.5 23.8 Q0.9 23.8 0.9 20.8Z" fill="url(#usBody)" stroke="#a8a8a3" stroke-width="0.5"/><path d="M6.4 14.6 Q11.9 17.6 17.4 14.6" fill="none" stroke="#cfccd8" stroke-width="0.7"/><ellipse cx="11.9" cy="8.2" rx="6.8" ry="7.9" fill="url(#usHead)" stroke="#a8a8a3" stroke-width="0.4"/><path d="M7 31 Q7 21 16 20.3 L31.5 20.3 Q40.4 21 40.4 31 L40.4 33 Q40.4 38.5 33 38.5 L14.5 38.5 Q7 38.5 7 33Z" fill="url(#usBody)" stroke="#a8a8a3" stroke-width="0.5"/><path d="M16.4 21.2 Q24.6 25.4 32.8 21.2" fill="none" stroke="#cfccd8" stroke-width="0.8"/><path d="M12.4 26 V36.5 M35 26 V36.5" stroke="#c4c4bf" stroke-width="0.5" opacity="0.7"/><ellipse cx="24.6" cy="12.2" rx="9.3" ry="10.9" fill="url(#usHead)" stroke="#a8a8a3" stroke-width="0.4"/></g>
<g transform="translate(365.5 59.2)"><rect x="18.6" y="-6" width="3.6" height="9" rx="1.5" fill="#a2a29c" stroke="#6f6f69" stroke-width="0.5"/><path d="M5.5 0 H19.7 Q25.2 0 25.2 5.5 L22.8 42.5 Q22.4 47.8 17.4 47.8 H7.8 Q2.8 47.8 2.4 42.5 L0 5.5 Q0 0 5.5 0Z" fill="url(#phBody)" stroke="#6a6a64" stroke-width="0.8"/><path d="M6 1.7 H19.2 Q23.5 1.7 23.5 6 L21.2 42 Q20.9 46.1 17 46.1 H8.2 Q4.3 46.1 4 42 L1.7 6 Q1.7 1.7 6 1.7Z" fill="none" stroke="#d6d6d1" stroke-width="0.6" opacity="0.75"/><circle cx="10.2" cy="3.9" r="0.5" fill="#e4e4e0"/><circle cx="12.6" cy="3.9" r="0.5" fill="#e4e4e0"/><circle cx="15.0" cy="3.9" r="0.5" fill="#e4e4e0"/><circle cx="11.4" cy="44.2" r="0.5" fill="#e4e4e0"/><circle cx="13.8" cy="44.2" r="0.5" fill="#e4e4e0"/><rect x="4.2" y="6.6" width="16.8" height="12.6" fill="#fff" stroke="#f26a2b" stroke-width="0.7"/><text x="12.8" y="15.8" font-size="8.0" font-weight="bold" fill="#f15a29" stroke="#f15a29" stroke-width="0.22" text-anchor="middle" textLength="12.0" lengthAdjust="spacingAndGlyphs">IPQ</text><path d="M3.6 22.2 H21.6 L20.4 41.5 H4.8Z" fill="#8d8d87" opacity="0.55"/><rect x="4.9" y="23.4" width="4.4" height="2.4" rx="0.9" fill="#c3c3bd"/><rect x="10.4" y="23.4" width="4.4" height="2.4" rx="0.9" fill="#c3c3bd"/><rect x="15.9" y="23.4" width="4.4" height="2.4" rx="0.9" fill="#c3c3bd"/><rect x="5.0" y="27.1" width="4.4" height="2.4" rx="0.9" fill="#c3c3bd"/><rect x="10.4" y="27.1" width="4.4" height="2.4" rx="0.9" fill="#c3c3bd"/><rect x="15.8" y="27.1" width="4.4" height="2.4" rx="0.9" fill="#c3c3bd"/><rect x="5.1" y="30.8" width="4.4" height="2.4" rx="0.9" fill="#c3c3bd"/><rect x="10.4" y="30.8" width="4.4" height="2.4" rx="0.9" fill="#c3c3bd"/><rect x="15.7" y="30.8" width="4.4" height="2.4" rx="0.9" fill="#c3c3bd"/><rect x="5.3" y="34.5" width="4.4" height="2.4" rx="0.9" fill="#c3c3bd"/><rect x="10.4" y="34.5" width="4.4" height="2.4" rx="0.9" fill="#c3c3bd"/><rect x="15.5" y="34.5" width="4.4" height="2.4" rx="0.9" fill="#c3c3bd"/><rect x="5.4" y="38.2" width="4.4" height="2.4" rx="0.9" fill="#c3c3bd"/><rect x="10.4" y="38.2" width="4.4" height="2.4" rx="0.9" fill="#c3c3bd"/><rect x="15.4" y="38.2" width="4.4" height="2.4" rx="0.9" fill="#c3c3bd"/></g>
</g>
<g id="botdev">
<g><rect x="265.1" y="399.0" width="37.9" height="50.8" fill="#fff"/><g transform="translate(267.5 401.0)"><rect x="0" y="0" width="32.8" height="45.8" rx="1.8" fill="#262626"/><rect x="1.7" y="2.2" width="29.4" height="39" fill="url(#tbScr)"/><rect x="3.8" y="5.5" width="4.2" height="4.2" rx="0.8" fill="#8cc63f"/><rect x="10.3" y="5.5" width="4.2" height="4.2" rx="0.8" fill="#e9e9e9"/><rect x="3.8" y="15.0" width="4.2" height="4.2" rx="0.8" fill="#2b7bd6"/><rect x="10.3" y="15.0" width="4.2" height="4.2" rx="0.8" fill="#e8d9a0"/><rect x="17.1" y="15.0" width="4.2" height="4.2" rx="0.8" fill="#2f86dc"/><rect x="23.8" y="15.0" width="4.2" height="4.2" rx="0.8" fill="#151515"/><rect x="3.8" y="24.3" width="4.2" height="4.2" rx="0.8" fill="#2b8ae0"/><rect x="10.3" y="24.3" width="4.2" height="4.2" rx="0.8" fill="#2e9e3a"/><rect x="17.1" y="24.3" width="4.2" height="4.2" rx="0.8" fill="#b9b9b9"/><rect x="23.8" y="24.3" width="4.2" height="4.2" rx="0.8" fill="#55585a"/><rect x="3.8" y="33.4" width="4.2" height="4.2" rx="0.8" fill="#3a2e22"/><rect x="10.3" y="33.4" width="4.2" height="4.2" rx="0.8" fill="#f4b731"/><rect x="17.1" y="33.4" width="4.2" height="4.2" rx="0.8" fill="#1f6fd0"/><rect x="23.8" y="33.4" width="4.2" height="4.2" rx="0.8" fill="#7dc242"/><rect x="11.2" y="5.7" width="2.4" height="1.2" fill="#d8372c"/><circle cx="15.2" cy="43.2" r="0.7" fill="#bbb"/><rect x="13.8" y="3.2" width="16.6" height="14.1" fill="#fff" stroke="#f26a2b" stroke-width="0.7"/><text x="22.3" y="13.1" font-size="8.0" font-weight="bold" fill="#f15a29" stroke="#f15a29" stroke-width="0.22" text-anchor="middle" textLength="12.2" lengthAdjust="spacingAndGlyphs">IPQ</text></g></g>
<g transform="translate(311.6 384.8)"><path d="M0.9 19.8 Q0.9 14.2 6.5 13.8 L19 13.8 L19 23.8 L5.5 23.8 Q0.9 23.8 0.9 20.8Z" fill="url(#usBody)" stroke="#a8a8a3" stroke-width="0.5"/><path d="M6.4 14.6 Q11.9 17.6 17.4 14.6" fill="none" stroke="#cfccd8" stroke-width="0.7"/><ellipse cx="11.9" cy="8.2" rx="6.8" ry="7.9" fill="url(#usHead)" stroke="#a8a8a3" stroke-width="0.4"/><path d="M7 31 Q7 21 16 20.3 L31.5 20.3 Q40.4 21 40.4 31 L40.4 33 Q40.4 38.5 33 38.5 L14.5 38.5 Q7 38.5 7 33Z" fill="url(#usBody)" stroke="#a8a8a3" stroke-width="0.5"/><path d="M16.4 21.2 Q24.6 25.4 32.8 21.2" fill="none" stroke="#cfccd8" stroke-width="0.8"/><path d="M12.4 26 V36.5 M35 26 V36.5" stroke="#c4c4bf" stroke-width="0.5" opacity="0.7"/><ellipse cx="24.6" cy="12.2" rx="9.3" ry="10.9" fill="url(#usHead)" stroke="#a8a8a3" stroke-width="0.4"/></g>
<g transform="translate(363.4 379.2)"><rect x="18.6" y="-6" width="3.6" height="9" rx="1.5" fill="#a2a29c" stroke="#6f6f69" stroke-width="0.5"/><path d="M5.5 0 H19.7 Q25.2 0 25.2 5.5 L22.8 42.5 Q22.4 47.8 17.4 47.8 H7.8 Q2.8 47.8 2.4 42.5 L0 5.5 Q0 0 5.5 0Z" fill="url(#phBody)" stroke="#6a6a64" stroke-width="0.8"/><path d="M6 1.7 H19.2 Q23.5 1.7 23.5 6 L21.2 42 Q20.9 46.1 17 46.1 H8.2 Q4.3 46.1 4 42 L1.7 6 Q1.7 1.7 6 1.7Z" fill="none" stroke="#d6d6d1" stroke-width="0.6" opacity="0.75"/><circle cx="10.2" cy="3.9" r="0.5" fill="#e4e4e0"/><circle cx="12.6" cy="3.9" r="0.5" fill="#e4e4e0"/><circle cx="15.0" cy="3.9" r="0.5" fill="#e4e4e0"/><circle cx="11.4" cy="44.2" r="0.5" fill="#e4e4e0"/><circle cx="13.8" cy="44.2" r="0.5" fill="#e4e4e0"/><rect x="4.2" y="6.6" width="16.8" height="12.6" fill="#fff" stroke="#f26a2b" stroke-width="0.7"/><text x="12.8" y="15.8" font-size="8.0" font-weight="bold" fill="#f15a29" stroke="#f15a29" stroke-width="0.22" text-anchor="middle" textLength="12.0" lengthAdjust="spacingAndGlyphs">IPQ</text><path d="M3.6 22.2 H21.6 L20.4 41.5 H4.8Z" fill="#8d8d87" opacity="0.55"/><rect x="4.9" y="23.4" width="4.4" height="2.4" rx="0.9" fill="#c3c3bd"/><rect x="10.4" y="23.4" width="4.4" height="2.4" rx="0.9" fill="#c3c3bd"/><rect x="15.9" y="23.4" width="4.4" height="2.4" rx="0.9" fill="#c3c3bd"/><rect x="5.0" y="27.1" width="4.4" height="2.4" rx="0.9" fill="#c3c3bd"/><rect x="10.4" y="27.1" width="4.4" height="2.4" rx="0.9" fill="#c3c3bd"/><rect x="15.8" y="27.1" width="4.4" height="2.4" rx="0.9" fill="#c3c3bd"/><rect x="5.1" y="30.8" width="4.4" height="2.4" rx="0.9" fill="#c3c3bd"/><rect x="10.4" y="30.8" width="4.4" height="2.4" rx="0.9" fill="#c3c3bd"/><rect x="15.7" y="30.8" width="4.4" height="2.4" rx="0.9" fill="#c3c3bd"/><rect x="5.3" y="34.5" width="4.4" height="2.4" rx="0.9" fill="#c3c3bd"/><rect x="10.4" y="34.5" width="4.4" height="2.4" rx="0.9" fill="#c3c3bd"/><rect x="15.5" y="34.5" width="4.4" height="2.4" rx="0.9" fill="#c3c3bd"/><rect x="5.4" y="38.2" width="4.4" height="2.4" rx="0.9" fill="#c3c3bd"/><rect x="10.4" y="38.2" width="4.4" height="2.4" rx="0.9" fill="#c3c3bd"/><rect x="15.4" y="38.2" width="4.4" height="2.4" rx="0.9" fill="#c3c3bd"/></g>
</g>
<ellipse cx="131" cy="233" rx="20" ry="3.5" fill="#5b7fae" opacity="0.35"/>
<g transform="translate(111.9 171.1)"><path d="M9.5 0.5 H26.7 Q28.2 0.5 29.2 2.5 L34.6 9.5 Q35.7 11 35.7 13.5 V58.5 Q35.7 62.0 32.2 62.0 H4 Q0.5 62.0 0.5 58.5 V13.5 Q0.5 11 1.6 9.5 L7 2.5 Q8 0.5 9.5 0.5Z" fill="url(#svBody)" stroke="#9d9d98" stroke-width="1"/><path d="M1.8 11 H34.4" stroke="#fff" stroke-width="1" opacity="0.9"/><rect x="6.3" y="12.3" width="23.4" height="6.4" rx="0.8" fill="url(#svBay)" stroke="#b3b3ae" stroke-width="0.6"/><rect x="6.3" y="23.3" width="23.4" height="6.4" rx="0.8" fill="url(#svBay)" stroke="#b3b3ae" stroke-width="0.6"/><circle cx="8.7" cy="38.7" r="3.6" fill="#d6d6d2" stroke="#77777a" stroke-width="1"/><circle cx="8.7" cy="38.7" r="1.5" fill="#b9b9b5" stroke="#8a8a88" stroke-width="0.5"/><rect x="16.3" y="37.2" width="14" height="3.2" rx="0.6" fill="#fafaf8" stroke="#c2c2bd" stroke-width="0.5"/><rect x="10.6" y="49" width="1.1" height="8.8" fill="#a8a8a3"/><rect x="13.5" y="49" width="1.1" height="8.8" fill="#a8a8a3"/><rect x="16.4" y="49" width="1.1" height="8.8" fill="#a8a8a3"/><rect x="19.3" y="49" width="1.1" height="8.8" fill="#a8a8a3"/><rect x="22.2" y="49" width="1.1" height="8.8" fill="#a8a8a3"/><rect x="25.1" y="49" width="1.1" height="8.8" fill="#a8a8a3"/></g>
<rect x="120.0" y="214.1" width="20.8" height="14.8" fill="#fff" stroke="#f26a2b" stroke-width="0.7"/><text x="130.6" y="224.8" font-size="9.3" font-weight="bold" fill="#f15a29" stroke="#f15a29" stroke-width="0.26" text-anchor="middle" textLength="15.0" lengthAdjust="spacingAndGlyphs">IPQ</text>
<g transform="translate(118.9 170.6) scale(1.000)"><path d="M17.50 5.90 C17.72 4.92 18.53 2.97 19.40 2.00 C20.27 1.03 21.48 0.10 22.70 0.10 C23.92 0.10 25.82 0.82 26.70 2.00 C27.58 3.18 27.90 5.45 28.00 7.20 C28.10 8.95 27.85 10.85 27.30 12.50 C26.75 14.15 26.02 15.33 24.70 17.10 C23.38 18.87 21.37 21.45 19.40 23.10 C17.43 24.75 15.08 26.15 12.90 27.00 C10.72 27.85 8.18 28.30 6.30 28.20 C4.42 28.10 2.63 27.25 1.60 26.40 C0.57 25.55 0.10 24.10 0.10 23.10 C0.10 22.10 0.57 21.28 1.60 20.40 C2.63 19.52 5.08 18.12 6.30 17.80 C7.52 17.48 8.25 17.95 8.90 18.50 C9.55 19.05 9.53 20.78 10.20 21.10 C10.87 21.42 11.80 21.07 12.90 20.40 C14.00 19.73 15.60 18.52 16.80 17.10 C18.00 15.68 19.43 13.22 20.10 11.90 C20.77 10.58 21.13 9.87 20.80 9.20 C20.47 8.53 18.65 8.45 18.10 7.90 C17.55 7.35 17.28 6.88 17.50 5.90Z" fill="url(#grPh)" stroke="#3f8f1f" stroke-width="0.5"/><path d="M2.6 22 L6.6 19.6 M20.6 3 L23.2 1.6" stroke="#d6f3b4" stroke-width="1.2" stroke-linecap="round" fill="none" opacity="0.9"/><path d="M25.8 6 C26.4 11 24 16 20 20.5" stroke="#b4e58a" stroke-width="0.9" stroke-linecap="round" fill="none" opacity="0.6"/></g>
<g id="hub">
<polygon points="356.50,208.50 393.90,231.60 393.90,238.20 356.50,215.10" fill="url(#swL)" stroke="#9c9c9c" stroke-width="0.7" stroke-linejoin="round"/><polygon points="393.90,231.60 421.30,214.60 421.30,221.20 393.90,238.20" fill="url(#swR)" stroke="#9c9c9c" stroke-width="0.7" stroke-linejoin="round"/><polygon points="383.90,191.50 421.30,214.60 393.90,231.60 356.50,208.50" fill="url(#swTop)" stroke="#9c9c9c" stroke-width="0.7" stroke-linejoin="round"/>
<path d="M383.9 192.5 L418.3 214.6 L407.3 220.6 Q 395 214 372 200Z" fill="#fff" opacity="0.55"/>
<rect x="367.72" y="216.83" width="0.9" height="1.3" fill="#555"/>
<rect x="367.72" y="219.03" width="0.9" height="1.3" fill="#555"/>
<rect x="370.34" y="218.45" width="0.9" height="1.3" fill="#555"/>
<rect x="370.34" y="220.65" width="0.9" height="1.3" fill="#555"/>
<rect x="372.96" y="220.06" width="0.9" height="1.3" fill="#555"/>
<rect x="372.96" y="222.26" width="0.9" height="1.3" fill="#555"/>
<rect x="375.57" y="221.68" width="0.9" height="1.3" fill="#555"/>
<rect x="375.57" y="223.88" width="0.9" height="1.3" fill="#555"/>
<rect x="378.19" y="223.30" width="0.9" height="1.3" fill="#555"/>
<rect x="378.19" y="225.50" width="0.9" height="1.3" fill="#555"/>
<rect x="380.81" y="224.92" width="0.9" height="1.3" fill="#555"/>
<rect x="380.81" y="227.12" width="0.9" height="1.3" fill="#555"/>
<rect x="383.43" y="226.53" width="0.9" height="1.3" fill="#555"/>
<rect x="383.43" y="228.73" width="0.9" height="1.3" fill="#555"/>
<rect x="386.05" y="228.15" width="0.9" height="1.3" fill="#555"/>
<rect x="386.05" y="230.35" width="0.9" height="1.3" fill="#555"/>
<rect x="388.66" y="229.77" width="0.9" height="1.3" fill="#555"/>
<rect x="388.66" y="231.97" width="0.9" height="1.3" fill="#555"/>
<polygon points="358.37,211.66 363.98,215.12 363.98,216.92 358.37,213.46" fill="#8a8a8a"/>
</g>
<g id="switch">
<polygon points="290.10,235.80 331.40,261.10 331.40,267.60 290.10,242.30" fill="url(#swL)" stroke="#9c9c9c" stroke-width="0.7" stroke-linejoin="round"/><polygon points="331.40,261.10 362.20,242.50 362.20,249.00 331.40,267.60" fill="url(#swR)" stroke="#9c9c9c" stroke-width="0.7" stroke-linejoin="round"/><polygon points="320.90,217.20 362.20,242.50 331.40,261.10 290.10,235.80" fill="url(#swTop)" stroke="#9c9c9c" stroke-width="0.7" stroke-linejoin="round"/>
<g transform="matrix(41.300 25.300 -30.800 18.600 320.900 217.200)" fill="#66717b">
<polygon points="0.025,0.46 0.13,0.17 0.13,0.31 0.30,0.31 0.30,0.61 0.13,0.61 0.13,0.75"/>
<polygon points="0.915,0.48 0.82,0.77 0.82,0.63 0.66,0.63 0.66,0.34 0.82,0.34 0.82,0.20"/>
<polygon points="0.47,0.40 0.30,0.25 0.385,0.25 0.385,0.05 0.555,0.05 0.555,0.25 0.625,0.25"/>
<polygon points="0.48,0.553 0.636,0.69 0.57,0.69 0.57,0.90 0.39,0.90 0.39,0.69 0.316,0.69"/>
</g>
<rect x="312.81" y="252.32" width="1" height="1" fill="#7fbf6a"/>
<rect x="314.88" y="253.58" width="1" height="1" fill="#7fbf6a"/>
<rect x="322.31" y="258.13" width="1" height="1" fill="#7fbf6a"/>
<rect x="324.38" y="259.40" width="1" height="1" fill="#7fbf6a"/>
<rect x="326.44" y="260.66" width="1" height="1" fill="#7fbf6a"/>
</g>
<g id="firewall">
<ellipse cx="440" cy="277.5" rx="34" ry="5" fill="#fff" opacity="0.25"/>
<path d="M413.6 243.3 L413.6 239.3 Q413.6 235.3 417.6 235.3 L456.6 235.3 Q459.6 235.3 461.1 243.3Z" fill="url(#fwCap)"/>
<path d="M413.6 243.3 H461.1 V274.9 Q461.1 276.9 459.1 276.9 H415.6 Q413.6 276.9 413.6 274.9Z" fill="url(#fwWall)" opacity="0.8"/>
<g stroke="#e5bda9" stroke-width="0.6" opacity="0.85" fill="none">
<path d="M413.6 243.6 H461.1 M413.6 253 H461.1 M413.6 265.3 H461.1"/>
<path d="M417.6 243.6 V253 M433.8 243.6 V253 M447.8 243.6 V253 M425.8 253 V265.3 M441 253 V265.3 M417.6 265.3 V276.9 M433.8 265.3 V276.9"/>
</g>
<path d="M441 277 C436 270 438 262 442 255 C441 262 446 266 446 277Z" fill="#2a0d06" opacity="0.55"/>
<path d="M452.5 283.8 C444 284 439.5 277 441.8 269.5 C443 265.5 444.8 263 445.2 259 C447.2 261.5 447.4 264 447.2 266 C449 260.5 447.6 253.5 449.4 248 C450.8 252 451.4 254.5 452.2 257 C452.6 251.5 451.6 247.5 453.4 243.8 C455.2 250 458 254.5 458.2 261.5 C459.6 258.8 459.6 256 460.8 253.6 C462 258.5 462.6 262 462.4 266.5 C463.6 265 464.2 263.4 464.4 261.8 C467.5 270 466.5 284 452.5 283.8Z" fill="url(#flame)"/>
<path d="M452.8 282.6 C447.5 282.6 445 277.5 446.8 272.5 C448 269 449.8 266.8 450.6 262.5 C452.6 266.5 452.4 269 453.6 271.5 C454.6 268 454.4 264 456 260.5 C457.6 266 460.4 269 460.2 274.5 C460 279.5 457.5 282.6 452.8 282.6Z" fill="#ffc93a" opacity="0.8"/>
<path d="M452.9 282 C449.8 282 448.4 278.8 449.6 275.8 C450.4 273.8 451.6 272.6 452 270 C453.6 273 455.8 274.6 456 277.6 C456 280.2 455 282 452.9 282Z" fill="#fff3b0" opacity="0.9"/>
</g>
<g id="tower">
<rect x="305.2" y="134.1" width="52.8" height="25.4" fill="#fff"/>
<g clip-path="url(#twUp)">
<circle cx="331.5" cy="157.2" r="22.4" fill="url(#twC2)"/>
<rect x="323.6" y="135.8" width="6.2" height="10.6" rx="2.2" fill="#4d86d8" opacity="0.85"/><rect x="323.6" y="148.2" width="6.2" height="10.6" rx="2.2" fill="#4d86d8" opacity="0.85"/>
<rect x="330.7" y="135.8" width="6.2" height="10.6" rx="2.2" fill="#ee5f3f" opacity="0.85"/><rect x="330.7" y="148.2" width="6.2" height="10.6" rx="2.2" fill="#ee5f3f" opacity="0.85"/>
</g>
<g clip-path="url(#twLow)"><circle cx="331.5" cy="157.2" r="22.4" fill="url(#twC1)"/>
<rect x="324.3" y="159.5" width="5.8" height="22" fill="#3f7fd0"/><rect x="330.1" y="159.5" width="5.8" height="22" fill="#e9553f"/>
</g>
<circle cx="331.5" cy="157.2" r="7.4" fill="none" stroke="#4a4f58" stroke-width="0.55" opacity="0.85"/>
<circle cx="331.5" cy="157.2" r="14.8" fill="none" stroke="#4a4f58" stroke-width="0.55" opacity="0.85"/>
<circle cx="331.5" cy="157.2" r="21.8" fill="none" stroke="#4a4f58" stroke-width="0.55" opacity="0.85"/>
<line x1="326.2" y1="170.6" x2="337.0" y2="170.6" stroke="#7d7d7a" stroke-width="2.2" stroke-linecap="round"/><line x1="326.2" y1="170.6" x2="337.0" y2="170.6" stroke="#dcdcda" stroke-width="1.3" stroke-linecap="round"/>
<line x1="320.3" y1="184.5" x2="342.7" y2="184.5" stroke="#7d7d7a" stroke-width="2.4" stroke-linecap="round"/><line x1="320.3" y1="184.5" x2="342.7" y2="184.5" stroke="#dcdcda" stroke-width="1.5" stroke-linecap="round"/>
<line x1="336.5" y1="171.5" x2="320.5" y2="184.0" stroke="#7d7d7a" stroke-width="2.2" stroke-linecap="round"/><line x1="336.5" y1="171.5" x2="320.5" y2="184.0" stroke="#dcdcda" stroke-width="1.3" stroke-linecap="round"/>
<line x1="342.5" y1="185.0" x2="322.0" y2="177.5" stroke="#7d7d7a" stroke-width="2.1" stroke-linecap="round"/><line x1="342.5" y1="185.0" x2="322.0" y2="177.5" stroke="#dcdcda" stroke-width="1.2" stroke-linecap="round"/>
<line x1="330.2" y1="160.5" x2="316.0" y2="192.0" stroke="#7d7d7a" stroke-width="3.4" stroke-linecap="round"/><line x1="330.2" y1="160.5" x2="316.0" y2="192.0" stroke="#dcdcda" stroke-width="2.5" stroke-linecap="round"/>
<line x1="332.8" y1="160.5" x2="347.2" y2="192.0" stroke="#7d7d7a" stroke-width="3.4" stroke-linecap="round"/><line x1="332.8" y1="160.5" x2="347.2" y2="192.0" stroke="#dcdcda" stroke-width="2.5" stroke-linecap="round"/>
<circle cx="331.5" cy="157.2" r="3.9" fill="url(#twBall)" stroke="#8a8a88" stroke-width="0.8"/>
</g>
<rect x="323.5" y="100.0" width="6.4" height="10.6" rx="2.2" fill="#1173bc" opacity="1.00"/><rect x="323.5" y="112.4" width="6.4" height="10.6" rx="2.2" fill="#1173bc" opacity="1.00"/><rect x="323.5" y="124.8" width="6.4" height="9.2" rx="2.2" fill="#1173bc" opacity="1.00"/>
<rect x="330.6" y="100.0" width="6.4" height="10.6" rx="2.2" fill="#ec1c24" opacity="1.00"/><rect x="330.6" y="112.4" width="6.4" height="10.6" rx="2.2" fill="#ec1c24" opacity="1.00"/><rect x="330.6" y="124.8" width="6.4" height="9.2" rx="2.2" fill="#ec1c24" opacity="1.00"/>
<g id="wifi">
<path d="M366.67 289.40 A12.20 12.20 0 0 1 375.09 300.57" fill="none" stroke="#000" stroke-width="1.8" stroke-linecap="round"/>
<path d="M306.31 300.57 A12.20 12.20 0 0 1 314.73 289.40" fill="none" stroke="#000" stroke-width="1.8" stroke-linecap="round"/>
<path d="M368.40 284.07 A17.80 17.80 0 0 1 380.69 300.38" fill="none" stroke="#000" stroke-width="1.8" stroke-linecap="round"/>
<path d="M300.71 300.38 A17.80 17.80 0 0 1 313.00 284.07" fill="none" stroke="#000" stroke-width="1.8" stroke-linecap="round"/>
<path d="M370.19 278.56 A23.60 23.60 0 0 1 386.49 300.18" fill="none" stroke="#000" stroke-width="1.8" stroke-linecap="round"/>
<path d="M294.91 300.18 A23.60 23.60 0 0 1 311.21 278.56" fill="none" stroke="#000" stroke-width="1.8" stroke-linecap="round"/>
</g>
<g id="router">
<ellipse cx="340.5" cy="338" rx="35" ry="3.4" fill="#3b3b3b"/>
<polygon points="315.6,295.3 317,295.5 322.9,314.8 319.4,314.8" fill="url(#ant)"/>
<polygon points="340,294.4 341,294.4 342.8,314.8 338.6,314.8" fill="url(#ant)"/>
<polygon points="365.4,295.3 366.6,295.6 363.8,314.8 359.6,314.8" fill="url(#ant)"/>
<path d="M316.3 314.6 H364.3 Q366.3 314.6 366.9 316.6 L369.7 327.7 H310.1 L313.7 316.6 Q314.3 314.6 316.3 314.6Z" fill="url(#rtTop)"/>
<path d="M310.1 327.7 H369.7 L370.4 333.3 Q370.6 336.3 367.6 336.3 H312.6 Q309.6 336.3 309.8 333.3Z" fill="url(#rtFront)"/>
<circle cx="329.1" cy="330.9" r="0.65" fill="#39b54a"/>
<circle cx="335.4" cy="330.9" r="0.65" fill="#39b54a"/>
<rect x="334.1" y="332.8" width="2.6" height="1.3" fill="#9a9a9a"/>
<circle cx="341.4" cy="330.9" r="0.65" fill="#39b54a"/>
<rect x="340.1" y="332.8" width="2.6" height="1.3" fill="#9a9a9a"/>
<circle cx="347.1" cy="330.9" r="0.65" fill="#39b54a"/>
<rect x="345.8" y="332.8" width="2.6" height="1.3" fill="#9a9a9a"/>
<circle cx="352.8" cy="330.9" r="0.65" fill="#39b54a"/>
<rect x="351.5" y="332.8" width="2.6" height="1.3" fill="#9a9a9a"/>
<circle cx="329.1" cy="333.6" r="0.65" fill="#39b54a"/>
<circle cx="358.9" cy="330.9" r="0.65" fill="#e23b30"/><rect x="357.6" y="332.8" width="2.6" height="1.3" fill="#9a9a9a"/>
<rect x="321" y="330.4" width="5.6" height="0.9" fill="#777"/><rect x="319.8" y="333.2" width="6.8" height="0.9" fill="#777"/>
</g>
<rect x="323.3" y="336.0" width="7.2" height="11.2" rx="2.2" fill="#0aa551" opacity="1.00"/><rect x="323.3" y="347.6" width="7.2" height="11.2" rx="2.2" fill="#0aa551" opacity="1.00"/><rect x="323.3" y="359.2" width="7.2" height="11.2" rx="2.2" fill="#0aa551" opacity="1.00"/><rect x="323.3" y="370.8" width="7.2" height="11.2" rx="2.2" fill="#0aa551" opacity="1.00"/><rect x="323.3" y="382.4" width="7.2" height="0.1" rx="2.2" fill="#0aa551" opacity="1.00"/>
<rect x="332" y="335.7" width="6.6" height="4.8" rx="2.4" fill="#b3211f"/>
<rect x="332.1" y="343.5" width="6.6" height="11.4" rx="2.2" fill="#ec1c24" opacity="1.00"/><rect x="332.1" y="357.1" width="6.6" height="11.4" rx="2.2" fill="#ec1c24" opacity="1.00"/><rect x="332.1" y="370.7" width="6.6" height="11.4" rx="2.2" fill="#ec1c24" opacity="1.00"/>
<g id="laptop">
<path d="M307.2 490.5 L311.2 477.7 H373.9 L377.9 490.5 Q378.6 494.2 375 494.2 H310 Q306.5 494.2 307.2 490.5Z" fill="url(#lpBody)" stroke="#b3b3ae" stroke-width="0.8"/>
<path d="M311.2 477.7 V438.7 Q311.2 435.2 314.7 435.2 H370.4 Q373.9 435.2 373.9 438.7 V477.7Z" fill="#f2f2ef" stroke="#b3b3ae" stroke-width="0.8"/>
<rect x="315.3" y="441.1" width="54.5" height="33.6" fill="url(#lpScr)" stroke="#72829a" stroke-width="0.8"/>
<circle cx="341.6" cy="437.6" r="1" fill="#2f5fb5"/>
<rect x="318.3" y="476.6" width="4.8" height="1.3" fill="#7f93b2"/><rect x="359" y="476.6" width="5.4" height="1.3" fill="#7f93b2"/>
<path d="M314.2 482.2 H348.8 L349.6 490.3 H312.2Z" fill="#fbfbfa" stroke="#cfcfca" stroke-width="0.5"/>
<path d="M313.5 484.9 H349 M313 487.6 H349.3" stroke="#d4d4cf" stroke-width="0.5" stroke-dasharray="1.6 0.9"/>
<rect x="351.3" y="482.2" width="8.3" height="3.6" rx="0.6" fill="#e3e3df" stroke="#cfcfca" stroke-width="0.4"/><rect x="352.3" y="487" width="6.4" height="3.8" rx="0.6" fill="#e3e3df" stroke="#cfcfca" stroke-width="0.4"/>
<path d="M363 482.2 H373.4 L374.6 490.7 H363.6Z" fill="#eeeeea" stroke="#cfcfca" stroke-width="0.5"/>
<rect x="318.2" y="442.4" width="20.0" height="16.8" fill="#fff" stroke="#f26a2b" stroke-width="0.7"/><text x="328.4" y="454.5" font-size="10.2" font-weight="bold" fill="#f15a29" stroke="#f15a29" stroke-width="0.29" text-anchor="middle" textLength="14.2" lengthAdjust="spacingAndGlyphs">IPQ</text>
<g transform="translate(345.1 443.7) scale(0.600)"><path d="M17.50 5.90 C17.72 4.92 18.53 2.97 19.40 2.00 C20.27 1.03 21.48 0.10 22.70 0.10 C23.92 0.10 25.82 0.82 26.70 2.00 C27.58 3.18 27.90 5.45 28.00 7.20 C28.10 8.95 27.85 10.85 27.30 12.50 C26.75 14.15 26.02 15.33 24.70 17.10 C23.38 18.87 21.37 21.45 19.40 23.10 C17.43 24.75 15.08 26.15 12.90 27.00 C10.72 27.85 8.18 28.30 6.30 28.20 C4.42 28.10 2.63 27.25 1.60 26.40 C0.57 25.55 0.10 24.10 0.10 23.10 C0.10 22.10 0.57 21.28 1.60 20.40 C2.63 19.52 5.08 18.12 6.30 17.80 C7.52 17.48 8.25 17.95 8.90 18.50 C9.55 19.05 9.53 20.78 10.20 21.10 C10.87 21.42 11.80 21.07 12.90 20.40 C14.00 19.73 15.60 18.52 16.80 17.10 C18.00 15.68 19.43 13.22 20.10 11.90 C20.77 10.58 21.13 9.87 20.80 9.20 C20.47 8.53 18.65 8.45 18.10 7.90 C17.55 7.35 17.28 6.88 17.50 5.90Z" fill="url(#grPh)" stroke="#3f8f1f" stroke-width="0.5"/><path d="M2.6 22 L6.6 19.6 M20.6 3 L23.2 1.6" stroke="#d6f3b4" stroke-width="1.2" stroke-linecap="round" fill="none" opacity="0.9"/><path d="M25.8 6 C26.4 11 24 16 20 20.5" stroke="#b4e58a" stroke-width="0.9" stroke-linecap="round" fill="none" opacity="0.6"/></g>
</g>
<g transform="translate(560.20 131.90) scale(1.000)"><path d="M0.4 26.6 C8 25.2 16 25.4 24.3 25.4 C32 25.4 39 24.6 42.9 22.4 C44.6 21 45 18.5 43.2 15.6 L45.6 18 C46.2 22 45.6 27 45.2 30.6 C44.6 34 40 36.6 35.9 37.6 C30 38.6 20 39 12.7 39.3 C8 39.6 4 40.2 1.1 41.4Z" fill="url(#film)"/><path d="M1.2 28.2 C8 26.8 16 27 24.3 27 C32 27 39 26.2 43.6 23.6" fill="none" stroke="#8d908c" stroke-width="0.8" stroke-dasharray="1.5 1.5" opacity="0.7"/><path d="M1.6 39.6 C5 38.6 9 38.1 12.7 37.8 C20 37.5 30 37.1 35.9 36.1 C39.5 35.2 43 33.4 44.4 30.6" fill="none" stroke="#8d908c" stroke-width="0.8" stroke-dasharray="1.5 1.5" opacity="0.7"/><ellipse cx="24" cy="13.2" rx="19" ry="9" fill="#7f7f7a"/><ellipse cx="24" cy="11.6" rx="18.4" ry="8.4" fill="#55554f"/><ellipse cx="24" cy="9.2" rx="19" ry="9" fill="url(#reel)" stroke="#9b9b96" stroke-width="0.5"/><ellipse cx="34.56" cy="10.26" rx="4.7" ry="2.5" fill="#56564f" transform="rotate(114.2 34.56 10.26)"/><ellipse cx="27.34" cy="14.05" rx="4.7" ry="2.5" fill="#56564f" transform="rotate(171.3 27.34 14.05)"/><ellipse cx="16.77" cy="12.99" rx="4.7" ry="2.5" fill="#56564f" transform="rotate(-156.9 16.77 12.99)"/><ellipse cx="13.44" cy="8.14" rx="4.7" ry="2.5" fill="#56564f" transform="rotate(-65.8 13.44 8.14)"/><ellipse cx="20.66" cy="4.35" rx="4.7" ry="2.5" fill="#56564f" transform="rotate(-8.7 20.66 4.35)"/><ellipse cx="31.23" cy="5.41" rx="4.7" ry="2.5" fill="#56564f" transform="rotate(23.1 31.23 5.41)"/><ellipse cx="24" cy="9.2" rx="3.2" ry="1.6" fill="#f4f4f2" stroke="#9b9b96" stroke-width="0.4"/></g>
<g transform="translate(333.00 460.60) scale(0.340)"><path d="M0.4 26.6 C8 25.2 16 25.4 24.3 25.4 C32 25.4 39 24.6 42.9 22.4 C44.6 21 45 18.5 43.2 15.6 L45.6 18 C46.2 22 45.6 27 45.2 30.6 C44.6 34 40 36.6 35.9 37.6 C30 38.6 20 39 12.7 39.3 C8 39.6 4 40.2 1.1 41.4Z" fill="url(#film)"/><path d="M1.2 28.2 C8 26.8 16 27 24.3 27 C32 27 39 26.2 43.6 23.6" fill="none" stroke="#8d908c" stroke-width="0.8" stroke-dasharray="1.5 1.5" opacity="0.7"/><path d="M1.6 39.6 C5 38.6 9 38.1 12.7 37.8 C20 37.5 30 37.1 35.9 36.1 C39.5 35.2 43 33.4 44.4 30.6" fill="none" stroke="#8d908c" stroke-width="0.8" stroke-dasharray="1.5 1.5" opacity="0.7"/><ellipse cx="24" cy="13.2" rx="19" ry="9" fill="#7f7f7a"/><ellipse cx="24" cy="11.6" rx="18.4" ry="8.4" fill="#55554f"/><ellipse cx="24" cy="9.2" rx="19" ry="9" fill="url(#reel)" stroke="#9b9b96" stroke-width="0.5"/><ellipse cx="34.56" cy="10.26" rx="4.7" ry="2.5" fill="#56564f" transform="rotate(114.2 34.56 10.26)"/><ellipse cx="27.34" cy="14.05" rx="4.7" ry="2.5" fill="#56564f" transform="rotate(171.3 27.34 14.05)"/><ellipse cx="16.77" cy="12.99" rx="4.7" ry="2.5" fill="#56564f" transform="rotate(-156.9 16.77 12.99)"/><ellipse cx="13.44" cy="8.14" rx="4.7" ry="2.5" fill="#56564f" transform="rotate(-65.8 13.44 8.14)"/><ellipse cx="20.66" cy="4.35" rx="4.7" ry="2.5" fill="#56564f" transform="rotate(-8.7 20.66 4.35)"/><ellipse cx="31.23" cy="5.41" rx="4.7" ry="2.5" fill="#56564f" transform="rotate(23.1 31.23 5.41)"/><ellipse cx="24" cy="9.2" rx="3.2" ry="1.6" fill="#f4f4f2" stroke="#9b9b96" stroke-width="0.4"/></g>
<g id="pres">
<path d="M655 162.7 V168 M655 167.2 L648.6 170.8 M655 167.2 L661.9 170.8" stroke="#c4c4c0" stroke-width="1.6" stroke-linecap="round" fill="none"/>
<circle cx="655" cy="167.2" r="1.4" fill="#e4e4e0" stroke="#9a9a96" stroke-width="0.4"/>
<rect x="634.3" y="134.6" width="39.5" height="28.1" fill="url(#prScr)" stroke="#c9c9c4" stroke-width="0.7"/>
<rect x="632.9" y="129.9" width="42.3" height="5.1" rx="0.8" fill="#f1f1ee" stroke="#b9b9b4" stroke-width="0.7"/>
<rect x="634" y="132.6" width="40" height="1" fill="#c9c9c4"/>
<rect x="653.5" y="139.4" width="7.6" height="15.8" fill="#fff" stroke="#e2e2de" stroke-width="0.4"/>
<path d="M646.5 148.7 L646.5 142.5 A6.3 6.3 0 1 0 652.8 148.7Z" fill="#f7a23b" stroke="#c6752a" stroke-width="1"/>
<path d="M648.2 147 L648.2 141.2 A5.8 5.8 0 0 1 654 147Z" fill="#3f7fd2" stroke="#2c64b0" stroke-width="0.5"/>
<rect x="658.7" y="139.3" width="8.9" height="1.3" fill="#6a6a68"/><rect x="660.5" y="146.2" width="9.3" height="1" fill="#77777a"/><rect x="660.5" y="148.3" width="8.7" height="0.9" fill="#b5b5b2"/><rect x="660.5" y="150.3" width="7" height="0.9" fill="#c5c5c2"/><rect x="658.7" y="141.6" width="6.5" height="0.9" fill="#b5b5b2"/>
</g>
</svg>
</body></html>
